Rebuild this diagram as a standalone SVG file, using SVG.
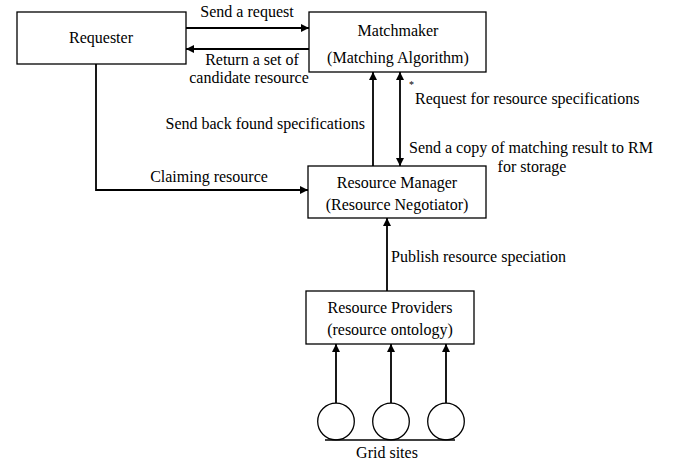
<svg xmlns="http://www.w3.org/2000/svg" width="677" height="463" viewBox="0 0 677 463">
<style>
.box{fill:#fff;stroke:#000;stroke-width:1.3}
.ln{fill:none;stroke:#000;stroke-width:1.8}
.c{text-anchor:middle}
</style>
<defs>
<marker id="ah" viewBox="0 0 10 10" refX="10" refY="5" markerWidth="9" markerHeight="8" markerUnits="userSpaceOnUse" orient="auto-start-reverse">
<path d="M0,0 L10,5 L0,10 Z" fill="#000"/>
</marker>
</defs>
<rect width="677" height="463" fill="#fff"/>
<g font-family="'Liberation Serif', 'DejaVu Serif', serif" font-size="16" fill="#000">
<g id="connectors">
<line class="ln" x1="186" y1="28" x2="309" y2="28" marker-end="url(#ah)"/>
<line class="ln" x1="309" y1="49" x2="186" y2="49" marker-end="url(#ah)"/>
<line class="ln" x1="373" y1="166" x2="373" y2="72" marker-end="url(#ah)"/>
<line class="ln" x1="400" y1="166" x2="400" y2="72" marker-start="url(#ah)" marker-end="url(#ah)"/>
<polyline class="ln" points="96,64 96,190 308,190" marker-end="url(#ah)"/>
<line class="ln" x1="387" y1="291" x2="387" y2="218" marker-end="url(#ah)"/>
<line class="ln" x1="336" y1="403" x2="336" y2="344" marker-end="url(#ah)"/>
<line class="ln" x1="391" y1="403" x2="391" y2="344" marker-end="url(#ah)"/>
<line class="ln" x1="446" y1="403" x2="446" y2="344" marker-end="url(#ah)"/>
<text x="247" y="17" class="c">Send a request</text>
<text x="252" y="65" class="c">Return a set of</text>
<text x="249" y="83" class="c">candidate resource</text>
<text x="409" y="88" font-size="10">*</text>
<text x="415" y="104">Request for resource specifications</text>
<text x="365" y="129" text-anchor="end">Send back found specifications</text>
<text x="409" y="153">Send a copy of matching result to RM</text>
<text x="532" y="172" class="c">for storage</text>
<text x="209" y="182" class="c">Claiming resource</text>
<text x="391" y="262">Publish resource speciation</text>
</g>
<g id="requester">
<rect class="box" x="17" y="12" width="169" height="52"/>
<text x="101" y="43" class="c">Requester</text>
</g>
<g id="matchmaker">
<rect class="box" x="309" y="12" width="177" height="60"/>
<text x="398" y="36" class="c">Matchmaker</text>
<text x="398" y="63" class="c">(Matching Algorithm)</text>
</g>
<g id="resource-manager">
<rect class="box" x="308" y="166" width="178" height="52"/>
<text x="397" y="188" class="c">Resource Manager</text>
<text x="397" y="210" class="c">(Resource Negotiator)</text>
</g>
<g id="resource-providers">
<rect class="box" x="306" y="291" width="168" height="53"/>
<text x="390" y="313" class="c">Resource Providers</text>
<text x="390" y="335" class="c">(resource ontology)</text>
</g>
<g id="grid-sites">
<circle class="box" cx="336" cy="421.5" r="18.3"/>
<circle class="box" cx="391" cy="421.5" r="18.3"/>
<circle class="box" cx="446" cy="421.5" r="18.3"/>
<line x1="325" y1="440" x2="455" y2="440" stroke="#000" stroke-width="1.3"/>
<text x="387" y="458" class="c">Grid sites</text>
</g>
</g>
</svg>
